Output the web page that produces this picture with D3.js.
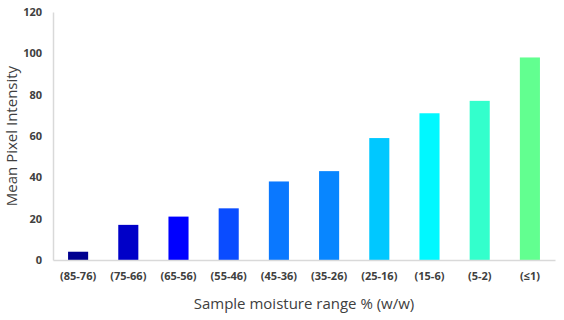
<!DOCTYPE html>
<html>
<head>
<meta charset="utf-8">
<script src="https://cdn.jsdelivr.net/npm/d3@7"></script>
<style>
  body { margin: 0; background: #fff; }
  text { font-family: "Open Sans", "Liberation Sans", sans-serif; }
</style>
</head>
<body>
<svg id="drawing_region"></svg>
<script>
const categories = ["(85-76)", "(75-66)", "(65-56)", "(55-46)", "(45-36)", "(35-26)", "(25-16)", "(15-6)", "(5-2)", "(\u22641)"];
const values = [4, 17, 21, 25, 38, 43, 59, 71, 77, 98];
const barColors = ["#000090", "#0000c8", "#0000ff", "#0a4cff", "#0a78ff", "#0886ff", "#00c8ff", "#00f8ff", "#33ffcc", "#62ff90"];
const yTicks = [0, 20, 40, 60, 80, 100, 120];

const config = {
    width: 564,
    height: 320,
    margin: {top: 12, right: 9, bottom: 60, left: 53}
};

const svg = d3.select('#drawing_region')
    .attr('width', config.width)
    .attr('height', config.height);

const inner_width = config.width - config.margin.left - config.margin.right;
const inner_height = config.height - config.margin.top - config.margin.bottom;

const chart = svg.append('g')
    .attr('transform', `translate(${config.margin.left}, ${config.margin.top})`);

const xscale = d3.scaleBand()
    .domain(categories)
    .range([0, inner_width])
    .paddingInner(0.6)
    .paddingOuter(0.3);

const yscale = d3.scaleLinear()
    .domain([0, 120])
    .range([inner_height, 0]);

// y axis
const yaxis = chart.append('g')
    .call(d3.axisLeft(yscale).tickValues(yTicks).tickSize(0).tickPadding(11));
yaxis.select('.domain').attr('stroke', '#d9d9d9').attr('stroke-width', 1.5);
yaxis.selectAll('text')
    .attr('font-size', '11px')
    .attr('font-weight', 'bold')
    .attr('fill', '#404040');

// bars
chart.selectAll('rect')
    .data(values)
    .enter()
    .append('rect')
    .attr('x', (d, i) => xscale(categories[i]))
    .attr('y', d => yscale(d))
    .attr('width', xscale.bandwidth())
    .attr('height', d => inner_height - yscale(d))
    .attr('fill', (d, i) => barColors[i]);

// x axis
const xaxis = chart.append('g')
    .attr('transform', `translate(0, ${inner_height})`)
    .call(d3.axisBottom(xscale).tickSize(0).tickPadding(12));
xaxis.select('.domain').attr('stroke', '#d9d9d9').attr('stroke-width', 1.5);
xaxis.selectAll('text')
    .attr('font-size', '11px')
    .attr('font-weight', 'bold')
    .attr('fill', '#404040');

// titles
svg.append('text')
    .attr('x', config.margin.left + inner_width / 2)
    .attr('y', 309)
    .attr('text-anchor', 'middle')
    .attr('font-size', '15px')
    .attr('fill', '#404040')
    .text('Sample moisture range % (w/w)');

svg.append('text')
    .attr('transform', `translate(17, ${config.margin.top + inner_height / 2}) rotate(-90)`)
    .attr('text-anchor', 'middle')
    .attr('font-size', '15px')
    .attr('fill', '#404040')
    .text('Mean Pixel Intensity');
</script>
</body>
</html>
